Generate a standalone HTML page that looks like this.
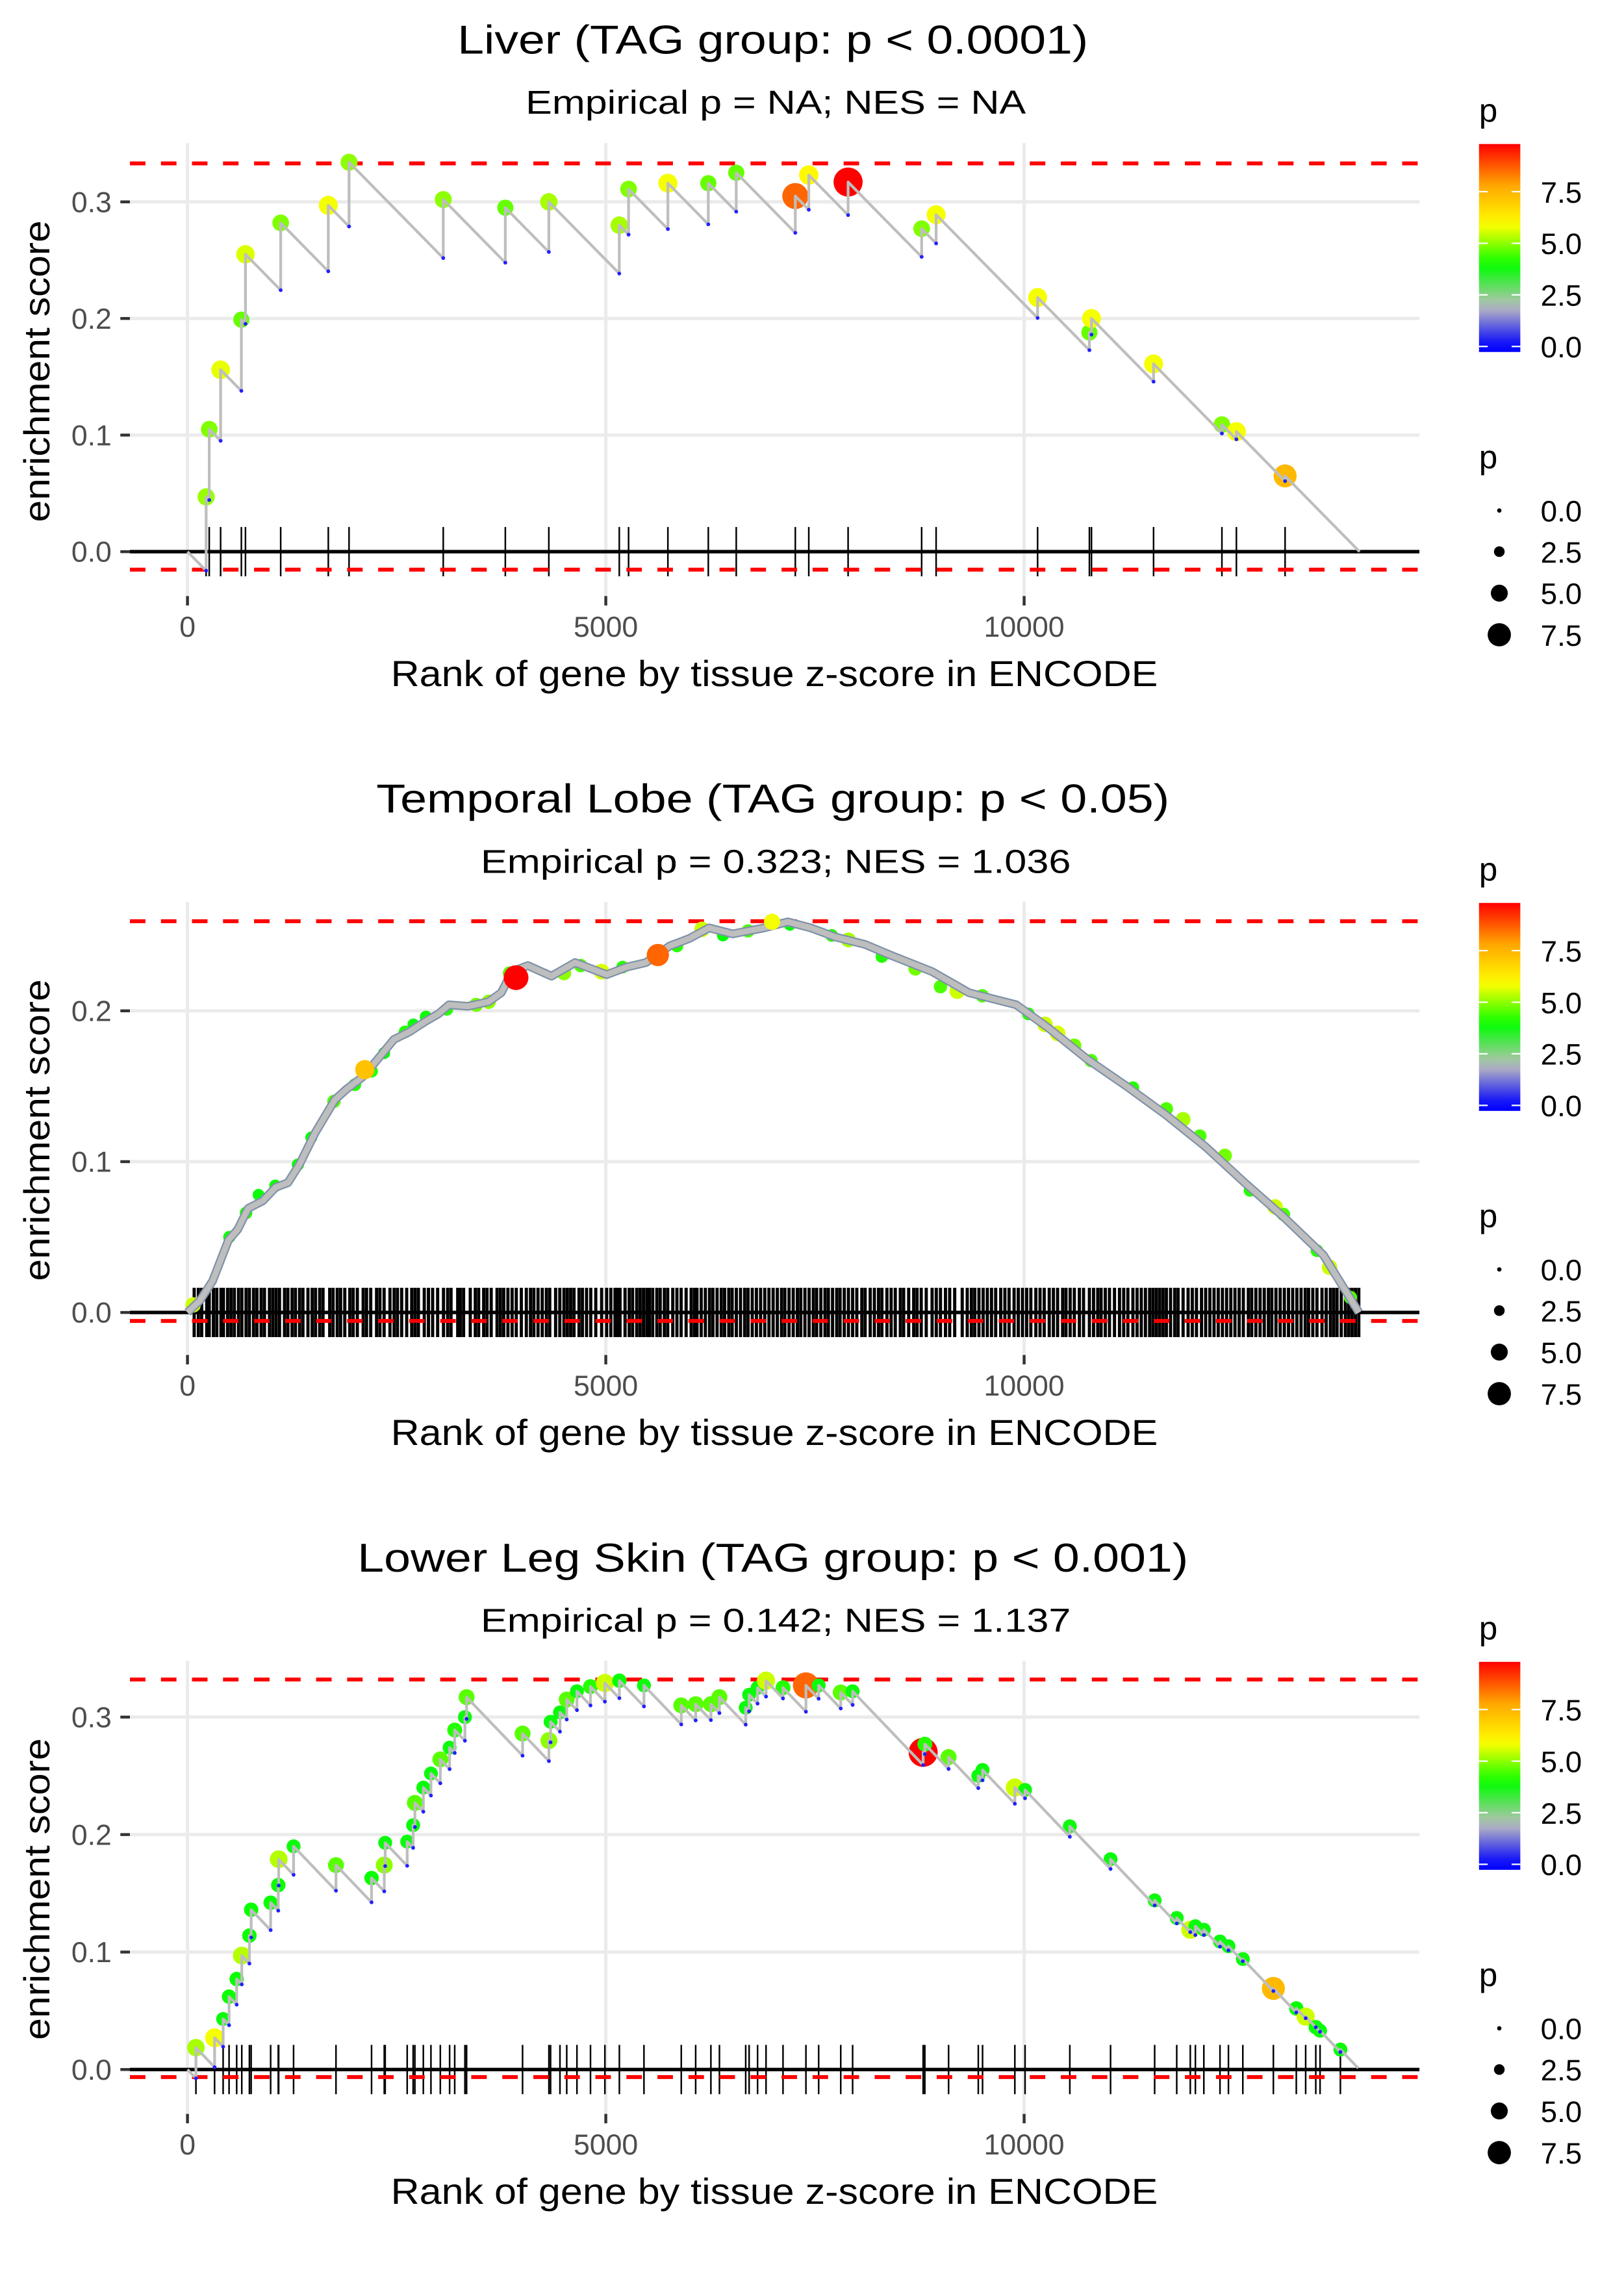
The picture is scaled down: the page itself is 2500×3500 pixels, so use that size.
<!DOCTYPE html>
<html><head><meta charset="utf-8"><title>Enrichment plots</title>
<style>
html,body{margin:0;padding:0;background:#fff;}
svg{display:block;font-family:"Liberation Sans",Arial,sans-serif;}
</style></head>
<body>
<svg id="fig" xmlns="http://www.w3.org/2000/svg" width="2500" height="3500" viewBox="0 0 1120 1568" preserveAspectRatio="none">
<defs>
<linearGradient id="pgrad" x1="0" y1="1" x2="0" y2="0"></linearGradient>
</defs>
</svg>
<script>
// ---------- Panel 1: Liver ----------
const liverRanks = [223,260,396,644,693,1114,1683,1931,3057,3799,4319,5161,5272,5742,6225,6559,7265,7426,7896,8775,8948,10161,10780,10805,11547,12364,12537,13119];
const liverES = [0.047,0.105,0.156,0.199,0.255,0.282,0.297,0.334,0.302,0.295,0.300,0.280,0.311,0.316,0.316,0.325,0.305,0.323,0.317,0.277,0.289,0.218,0.188,0.200,0.161,0.109,0.103,0.065];
const liverP = [5.1,4.9,5.7,4.7,5.6,4.9,5.8,5.0,5.0,4.7,5.2,5.2,4.9,5.8,4.7,4.7,8.6,6.0,9.8,4.9,5.8,5.8,4.7,5.8,5.8,4.9,5.8,7.4];
const liverEnd = 14010;
const liverSlope = 0.000073;

// ---------- Panel 2: Temporal Lobe ----------
const tlCurveRanks = [0,150,301,490,600,725,900,1055,1200,1337,1525,1761,1900,2090,2200,2467,2650,2844,3000,3126,3350,3597,3750,3879,4068,4350,4633,5009,5250,5480,5763,6000,6234,6516,6893,7175,7450,7740,8100,8399,8900,9341,9906,10282,10753,11224,11695,12166,12637,13108,13578,14002];
const tlCurveES = [0,0.008,0.021,0.048,0.055,0.069,0.074,0.083,0.086,0.098,0.119,0.141,0.148,0.156,0.163,0.181,0.186,0.193,0.198,0.204,0.203,0.206,0.212,0.226,0.230,0.223,0.232,0.224,0.229,0.232,0.243,0.248,0.255,0.251,0.255,0.259,0.255,0.249,0.244,0.237,0.226,0.212,0.204,0.189,0.168,0.150,0.131,0.110,0.086,0.063,0.038,0];
const tlDotRanks = [66,500,700,850,1050,1320,1480,1750,2000,2200,2350,2600,2700,2850,3100,3450,3600,3850,4500,4700,4950,5200,5850,6150,6400,6700,7200,7700,7900,8300,8700,9000,9200,9500,10050,10250,10400,10600,10800,11300,11700,11900,12100,12400,12700,13000,13100,13500,13650,13900,2119,6987,5622,3927];
const tlDotES = [0.005,0.050,0.066,0.078,0.084,0.098,0.116,0.140,0.151,0.160,0.172,0.186,0.191,0.196,0.201,0.204,0.206,0.225,0.225,0.230,0.226,0.229,0.243,0.254,0.250,0.253,0.257,0.250,0.247,0.236,0.228,0.216,0.213,0.210,0.198,0.191,0.185,0.177,0.167,0.149,0.135,0.128,0.117,0.104,0.081,0.070,0.065,0.041,0.030,0.010,0.161,0.259,0.237,0.222];
const tlDotP = [5.5,4.0,4.2,3.8,4.0,4.0,3.9,4.5,4.2,4.2,3.9,4.2,3.8,4.0,4.2,4.8,5.0,4.6,5.0,4.5,5.6,4.2,4.2,5.5,3.9,4.5,3.8,4.2,5.2,4.2,4.8,4.5,5.5,4.5,4.2,5.5,5.6,4.8,4.5,4.2,4.5,5.2,4.5,4.8,4.2,5.5,4.5,4.2,5.5,4.5,7.2,5.8,8.6,9.8];
const tlRug = [80,130,170,230,260,310,350,400,430,480,520,560,610,650,700,740,790,830,880,920,980,1020,1060,1100,1160,1200,1250,1290,1340,1380,1440,1490,1530,1580,1620,1700,1740,1790,1830,1880,1940,1980,2030,2100,2140,2190,2260,2300,2350,2420,2470,2510,2560,2620,2680,2720,2760,2830,2880,2930,2990,3060,3110,3150,3230,3260,3300,3380,3440,3480,3540,3580,3630,3700,3740,3780,3830,3880,3930,3990,4050,4100,4140,4190,4240,4290,4330,4400,4450,4500,4540,4580,4620,4680,4720,4770,4820,4880,4950,5010,5060,5110,5140,5170,5230,5280,5320,5370,5410,5450,5490,5520,5560,5610,5650,5700,5740,5800,5850,5900,5960,6020,6060,6090,6140,6190,6240,6280,6330,6380,6420,6470,6510,6560,6610,6660,6700,6750,6800,6850,6900,6950,7000,7050,7100,7140,7190,7240,7290,7330,7380,7430,7480,7520,7570,7620,7660,7710,7760,7800,7850,7900,7950,8000,8060,8100,8160,8210,8260,8300,8360,8410,8460,8520,8560,8620,8680,8720,8770,8830,8900,8950,9000,9060,9110,9170,9260,9320,9370,9410,9460,9510,9560,9610,9660,9720,9770,9820,9880,9930,9980,10030,10080,10140,10190,10240,10300,10350,10400,10460,10500,10550,10600,10660,10710,10780,10830,10880,10920,10970,11020,11080,11140,11190,11240,11300,11350,11400,11450,11500,11540,11580,11620,11660,11700,11750,11800,11840,11900,11960,12010,12060,12120,12170,12220,12270,12320,12370,12420,12470,12520,12570,12620,12680,12720,12770,12820,12870,12920,12960,13010,13060,13110,13160,13210,13260,13310,13360,13400,13450,13500,13560,13610,13660,13700,13740,13790,13840,13880,13920,13960,14000];

// ---------- Panel 3: Lower Leg Skin ----------
const llsRanks = [101,324,426,497,588,649,740,761,994,1085,1090,1268,1775,2200,2352,2363,2626,2697,2718,2819,2910,3022,3133,3194,3316,3336,4005,4320,4340,4452,4533,4655,4817,4989,5162,5456,5902,6074,6256,6358,6672,6713,6814,6915,7118,7392,7544,7808,7950,8793,8813,9097,9452,9503,9889,10011,10546,11033,11560,11824,11986,12047,12148,12341,12442,12614,12979,13253,13365,13486,13537,13780];
const llsES = [0.0186,0.027,0.043,0.062,0.077,0.097,0.114,0.136,0.142,0.157,0.179,0.190,0.174,0.163,0.174,0.193,0.194,0.208,0.227,0.240,0.252,0.264,0.274,0.289,0.300,0.317,0.286,0.280,0.296,0.304,0.315,0.322,0.326,0.329,0.331,0.327,0.310,0.311,0.311,0.317,0.308,0.319,0.325,0.331,0.325,0.327,0.327,0.321,0.322,0.270,0.277,0.266,0.250,0.255,0.240,0.238,0.207,0.179,0.144,0.129,0.119,0.122,0.119,0.109,0.105,0.094,0.069,0.052,0.045,0.036,0.033,0.017];
const llsP = [5.2,5.8,3.8,4.0,4.0,5.3,4.0,4.0,4.0,4.0,5.3,3.8,4.6,4.0,5.0,3.8,3.8,3.8,4.6,3.8,3.8,4.6,3.8,4.2,3.8,4.6,4.6,5.0,3.8,3.8,4.6,3.8,4.2,5.5,4.0,3.8,4.6,4.6,4.6,4.6,3.8,3.8,3.8,5.5,4.2,8.6,3.8,4.6,3.8,9.8,4.2,4.6,3.8,3.8,5.5,3.8,3.8,3.8,3.8,3.8,5.5,3.8,3.8,3.8,3.8,3.8,7.4,4.0,5.5,4.0,3.8,3.8];
const llsEnd = 13993;
const llsSlope = 0.0000745;

// ---------- shared ----------
const xTickValues = [0,5000,10000];
const xTickLabels = ["0","5000","10000"];
const legendTickValues = [0,2.5,5,7.5];
const legendTickLabels = ["0.0","2.5","5.0","7.5"];

const panels = [
  {key:"liver", oy:0, zero:380.4, per:804, yTicks:[0,0.1,0.2,0.3], yLabels:["0.0","0.1","0.2","0.3"], hiDash:0.333, loDash:-0.0154,
   title:"Liver (TAG group: p < 0.0001)", titleW:435, sub:"Empirical p = NA; NES = NA", subW:345},
  {key:"temporal-lobe", oy:523.3, zero:905, per:1040, yTicks:[0,0.1,0.2], yLabels:["0.0","0.1","0.2"], hiDash:0.2594, loDash:-0.0056,
   title:"Temporal Lobe (TAG group: p < 0.05)", titleW:547, sub:"Empirical p = 0.323; NES = 1.036", subW:407},
  {key:"lower-leg-skin", oy:1046.6, zero:1427, per:810, yTicks:[0,0.1,0.2,0.3], yLabels:["0.0","0.1","0.2","0.3"], hiDash:0.332, loDash:-0.0064,
   title:"Lower Leg Skin (TAG group: p < 0.001)", titleW:573, sub:"Empirical p = 0.142; NES = 1.137", subW:407}
];

const NS = "http://www.w3.org/2000/svg";
const svg = document.getElementById("fig");
const PL = 89.6, PR = 978.9;
function X(r){ return 129.3 + r*0.0577; }
function mk(tag, attrs, parent){
  const e = document.createElementNS(NS, tag);
  for (const k in attrs) e.setAttribute(k, attrs[k]);
  (parent||svg).appendChild(e);
  return e;
}
const stopsV = [0,1.96,3.92,5.88,7.84,9.8];
const stopsC = [[0,0,255],[190,190,190],[0,255,0],[255,255,0],[255,165,0],[255,0,0]];
function pColor(p){
  p = Math.max(0, Math.min(9.8, p));
  let i = 0; while (i < stopsV.length-2 && p > stopsV[i+1]) i++;
  const t = (p - stopsV[i])/(stopsV[i+1]-stopsV[i]);
  const c = stopsC[i].map((v,j)=>Math.round(v + (stopsC[i+1][j]-v)*t));
  return "rgb("+c.join(",")+")";
}
function pRadius(p){ return 1.5 + 0.87*p; }

const grad = document.getElementById("pgrad");
for (let k=0;k<=20;k++){
  const v = -0.26 + k*(10.07/20);
  const s = document.createElementNS(NS,"stop");
  s.setAttribute("offset", (k/20).toFixed(3));
  s.setAttribute("stop-color", pColor(v));
  grad.appendChild(s);
}

panels.forEach((P, idx) => {
  const Y = es => P.zero - P.per*es;
  const top = 98.6 + P.oy, bot = 411 + P.oy;
  const g = mk("g", {});
  
  

  const t = mk("text", {x:533, y:37+P.oy, "text-anchor":"middle", "font-size":28, fill:"#000", textLength:P.titleW, lengthAdjust:"spacingAndGlyphs"}, g);
  t.textContent = P.title;
  
  
  const st = mk("text", {x:535, y:78.5+P.oy, "text-anchor":"middle", "font-size":23, fill:"#000", textLength:P.subW, lengthAdjust:"spacingAndGlyphs"}, g);
  st.textContent = P.sub;
  
  

  P.yTicks.forEach((v,i) => {
    const gl = mk("line", {x1:PL, x2:PR, y1:Y(v), y2:Y(v), stroke:"#ebebeb", "stroke-width":2.3}, g);
    
    
    const tk = mk("line", {x1:83, x2:89.6, y1:Y(v), y2:Y(v), stroke:"#333", "stroke-width":2}, g);
    
    
    const lb = mk("text", {x:77, y:Y(v)+7, "text-anchor":"end", "font-size":20, fill:"#4d4d4d"}, g);
    lb.textContent = P.yLabels[i];
    
    
  });
  xTickValues.forEach((v,i) => {
    const gl = mk("line", {x1:X(v), x2:X(v), y1:top, y2:bot, stroke:"#ebebeb", "stroke-width":2.3}, g);
    
    
    const tk = mk("line", {x1:X(v), x2:X(v), y1:bot, y2:bot+6.5, stroke:"#333", "stroke-width":2}, g);
    
    
    const lb = mk("text", {x:X(v), y:439+P.oy, "text-anchor":"middle", "font-size":20, fill:"#4d4d4d"}, g);
    lb.textContent = xTickLabels[i];
    
    
  });

  const xt = mk("text", {x:534, y:473+P.oy, "text-anchor":"middle", "font-size":25, fill:"#000", textLength:529, lengthAdjust:"spacingAndGlyphs"}, g);
  xt.textContent = "Rank of gene by tissue z-score in ENCODE";
  
  
  const yc = 256 + P.oy;
  const yt = mk("text", {x:0, y:0, transform:"translate(34,"+yc+") rotate(-90)", "text-anchor":"middle", "font-size":25, fill:"#000", textLength:208, lengthAdjust:"spacingAndGlyphs"}, g);
  yt.textContent = "enrichment score";
  
  

  const rugRanks = idx===0 ? liverRanks : (idx===1 ? tlRug : llsRanks);
  rugRanks.forEach(r => {
    const l = mk("line", {x1:X(r), x2:X(r), y1:Y(0)-17, y2:Y(0)+17, stroke:"#000", "stroke-width": idx===1 ? 2.2 : 1.1}, g);
    
    
  });

  [P.hiDash, P.loDash].forEach(v => {
    const d = mk("line", {x1:PL, x2:PR, y1:Y(v), y2:Y(v), stroke:"#ff0000", "stroke-width":2.7, "stroke-dasharray":"10.7 10.7"}, g);
    
    
  });
  const z = mk("line", {x1:PL, x2:PR, y1:Y(0), y2:Y(0), stroke:"#000", "stroke-width":2.4}, g);
  
  

  if (idx === 1) {
    tlDotRanks.forEach((r,i) => {
      const c = mk("circle", {cx:X(r), cy:Y(tlDotES[i]), r:pRadius(tlDotP[i])*0.85, fill:pColor(tlDotP[i])}, g);
      
      
    });
    const pts = tlCurveRanks.map((r,i)=>X(r).toFixed(2)+","+Y(tlCurveES[i]).toFixed(2)).join(" ");
    const under = mk("polyline", {points:pts, fill:"none", stroke:"#7f92a8", "stroke-width":6, "stroke-linejoin":"round"}, g);
    
    
    const line = mk("polyline", {points:pts, fill:"none", stroke:"#bebebe", "stroke-width":4, "stroke-linejoin":"round"}, g);
    
    
    [50,51,52,53].forEach(i => {
      const c = mk("circle", {cx:X(tlDotRanks[i]), cy:Y(tlDotES[i]), r:pRadius(tlDotP[i])*0.85, fill:pColor(tlDotP[i])}, g);
      
      
    });
  } else {
    const ranks = idx===0 ? liverRanks : llsRanks;
    const es = idx===0 ? liverES : llsES;
    const ps = idx===0 ? liverP : llsP;
    const slope = idx===0 ? liverSlope : llsSlope;
    const endR = idx===0 ? liverEnd : llsEnd;
    let prevR = 0, prevE = 0;
    let d = "M"+X(0).toFixed(2)+","+Y(0).toFixed(2);
    const valleys = [];
    ranks.forEach((r,i) => {
      const v = prevE - slope*(r-prevR);
      valleys.push([r,v]);
      d += " L"+X(r).toFixed(2)+","+Y(v).toFixed(2)+" L"+X(r).toFixed(2)+","+Y(es[i]).toFixed(2);
      prevR = r; prevE = es[i];
    });
    d += " L"+X(endR).toFixed(2)+","+Y(prevE - slope*(endR-prevR)).toFixed(2);
    ranks.forEach((r,i) => {
      const c = mk("circle", {cx:X(r), cy:Y(es[i]), r:pRadius(ps[i]), fill:pColor(ps[i])}, g);
      
      
    });
    const path = mk("path", {d:d, fill:"none", stroke:"#bebebe", "stroke-width":1.9, "stroke-linejoin":"round"}, g);
    
    
    valleys.forEach(v => {
      const c = mk("circle", {cx:X(v[0]), cy:Y(v[1]), r:1.3, fill:"#2020ff"}, g);
      
      
    });
  }

  const lg = mk("g", {}, g);
  
  
  const lt = mk("text", {x:1020, y:84+P.oy, "font-size":23, fill:"#000"}, lg);
  lt.textContent = "p";
  
  
  const barTop = 99.3 + P.oy, barBot = 242.7 + P.oy;
  const bar = mk("rect", {x:1020, y:barTop, width:28.5, height:barBot-barTop, fill:"url(#pgrad)"}, lg);
  
  
  legendTickValues.forEach((v,i) => {
    const yy = 238.9 + P.oy - v*14.23;
    const a = mk("line", {x1:1020, x2:1026, y1:yy, y2:yy, stroke:"#fff", "stroke-width":1}, lg);
    
    
    const b = mk("line", {x1:1042.5, x2:1048.5, y1:yy, y2:yy, stroke:"#fff", "stroke-width":1}, lg);
    
    
    const tl = mk("text", {x:1062.5, y:yy+7.5, "font-size":20.5, fill:"#000"}, lg);
    tl.textContent = legendTickLabels[i];
    
    
  });

  const sg = mk("g", {}, g);
  
  
  const s0 = mk("text", {x:1020, y:323+P.oy, "font-size":23, fill:"#000"}, sg);
  s0.textContent = "p";
  
  
  const sy = [352, 380.4, 409, 437.7];
  legendTickValues.forEach((v,i) => {
    const c = mk("circle", {cx:1034, cy:sy[i]+P.oy, r:pRadius(v), fill:"#000"}, sg);
    
    
    const tl = mk("text", {x:1062.5, y:sy[i]+P.oy+7.5, "font-size":20.5, fill:"#000"}, sg);
    tl.textContent = legendTickLabels[i];
    
    
  });
});
</script>
</body></html>
